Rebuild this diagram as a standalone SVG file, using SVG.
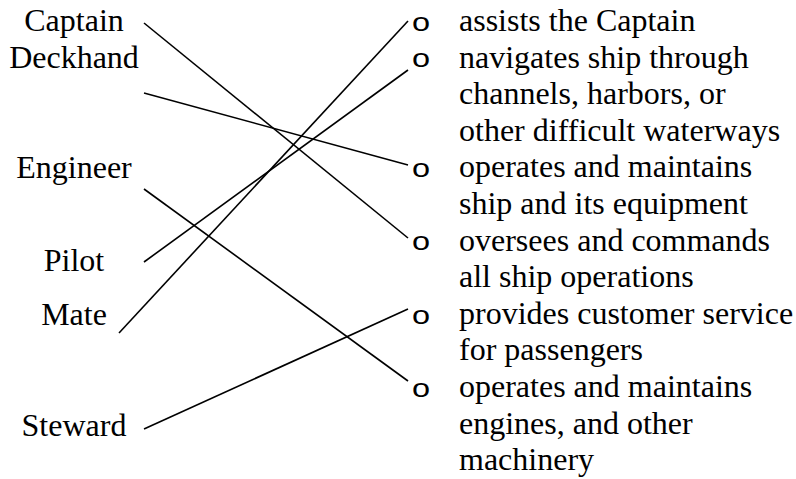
<svg xmlns="http://www.w3.org/2000/svg" width="796" height="479" viewBox="0 0 796 479">
<style>
.t{font-family:"Liberation Serif","Times New Roman",serif;font-size:32px;fill:#000}
.l{text-anchor:middle}
.b{font-family:"Liberation Sans",Arial,sans-serif;font-size:26px;fill:#000}
.c{stroke:#000;stroke-width:1.6;fill:none}
</style>
<rect width="796" height="479" fill="#fff"/>
<g id="connectors">
<line class="c" x1="144" y1="23" x2="408" y2="238"/>
<line class="c" x1="144" y1="93" x2="408" y2="165"/>
<line class="c" x1="144" y1="189" x2="408" y2="381"/>
<line class="c" x1="144" y1="262" x2="408" y2="70"/>
<line class="c" x1="119" y1="333" x2="408" y2="21"/>
<line class="c" x1="144" y1="429" x2="408" y2="309"/>
</g>
<g id="captain"><text class="t l" x="74" y="31">Captain</text></g>
<g id="deckhand"><text class="t l" x="74" y="67.6">Deckhand</text></g>
<g id="engineer"><text class="t l" x="74" y="178">Engineer</text></g>
<g id="pilot"><text class="t l" x="74" y="271">Pilot</text></g>
<g id="mate"><text class="t l" x="74" y="325">Mate</text></g>
<g id="steward"><text class="t l" x="74" y="435.5">Steward</text></g>
<g id="d-assists"><text class="b" transform="translate(412,30.5) scale(1.25,1)">o</text><text class="t" x="459" y="31">assists the Captain</text></g>
<g id="d-navigates"><text class="b" transform="translate(412,66.5) scale(1.25,1)">o</text><text class="t" x="459" y="67.6">navigates ship through</text><text class="t" x="459" y="104.2">channels, harbors, or</text><text class="t" x="459" y="140.8">other difficult waterways</text></g>
<g id="d-operates-ship"><text class="b" transform="translate(412,177) scale(1.25,1)">o</text><text class="t" x="459" y="177.4">operates and maintains</text><text class="t" x="459" y="214">ship and its equipment</text></g>
<g id="d-oversees"><text class="b" transform="translate(412,250) scale(1.25,1)">o</text><text class="t" x="459" y="250.6">oversees and commands</text><text class="t" x="459" y="287.2">all ship operations</text></g>
<g id="d-provides"><text class="b" transform="translate(412,323.5) scale(1.25,1)">o</text><text class="t" x="459" y="323.8">provides customer service</text><text class="t" x="459" y="360.4">for passengers</text></g>
<g id="d-operates-engines"><text class="b" transform="translate(412,396.5) scale(1.25,1)">o</text><text class="t" x="459" y="397">operates and maintains</text><text class="t" x="459" y="433.6">engines, and other</text><text class="t" x="459" y="470.2">machinery</text></g>
</svg>
